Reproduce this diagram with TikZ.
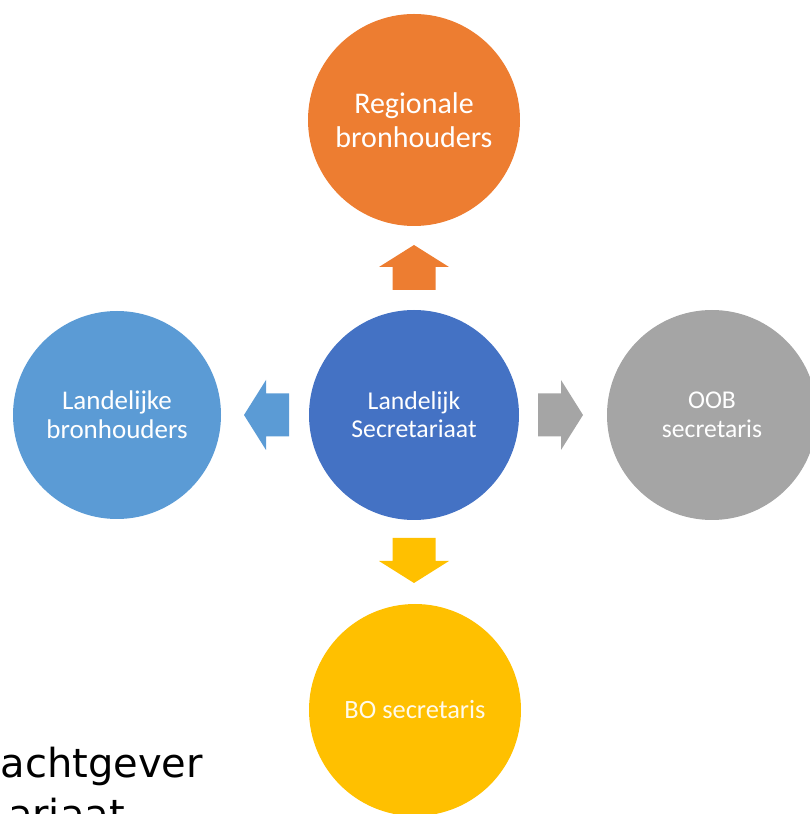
\documentclass[tikz,border=0pt]{standalone}
\usepackage{fontspec}
\setmainfont{Carlito}
\newfontfamily\dejavu{DejaVu Sans}
\definecolor{orangec}{HTML}{ED7D31}
\definecolor{bluec}{HTML}{4472C4}
\definecolor{lightbluec}{HTML}{5B9BD5}
\definecolor{grayc}{HTML}{A5A5A5}
\definecolor{yellowc}{HTML}{FFC000}
\tikzset{
  bubble/.style={circle, inner sep=0pt, text=white, align=center},
  barrow/.pic={\fill (-21.5,0) -- (21.5,0) -- (21.5,23) -- (35,23) -- (0,45) -- (-35,23) -- (-21.5,23) -- cycle;}
}
\begin{document}
\begin{tikzpicture}[x=1pt,y=1pt]
\useasboundingbox (0,0) rectangle (810,814);
\clip (0,0) rectangle (810,814);
\node[bubble, fill=orangec, minimum size=212pt, font=\fontsize{30}{34}\selectfont] (top) at (414,694) {Regionale\\bronhouders};
\node[bubble, fill=bluec, minimum size=210pt, font=\fontsize{25.7}{28}\selectfont] (mid) at (414,399) {Landelijk\\Secretariaat};
\node[bubble, fill=lightbluec, minimum size=208pt, font=\fontsize{27}{29}\selectfont] (left) at (117,399) {Landelijke\\bronhouders};
\node[bubble, fill=grayc, minimum size=210pt, font=\fontsize{25.6}{29}\selectfont] (right) at (712,399) {OOB\\secretaris};
\node[bubble, fill=yellowc, minimum size=212pt, font=\fontsize{26.4}{30}\selectfont, text=white!92!yellowc] (bot) at (415,104) {BO secretaris};
\pic[orangec] at (414,524) {barrow};
\pic[yellowc, rotate=180] at (414,276) {barrow};
\pic[lightbluec, rotate=90] at (289,399) {barrow};
\pic[grayc, rotate=-90] at (538,399) {barrow};
\node[anchor=base west, inner sep=0pt, font=\dejavu\fontsize{40}{50}\selectfont] (t1) at (0.5,36) {achtgever};
\node[anchor=base east, inner sep=0pt, font=\dejavu\fontsize{40}{50}\selectfont] (t2) at (125,-14) {ariaat};
\end{tikzpicture}
\end{document}
